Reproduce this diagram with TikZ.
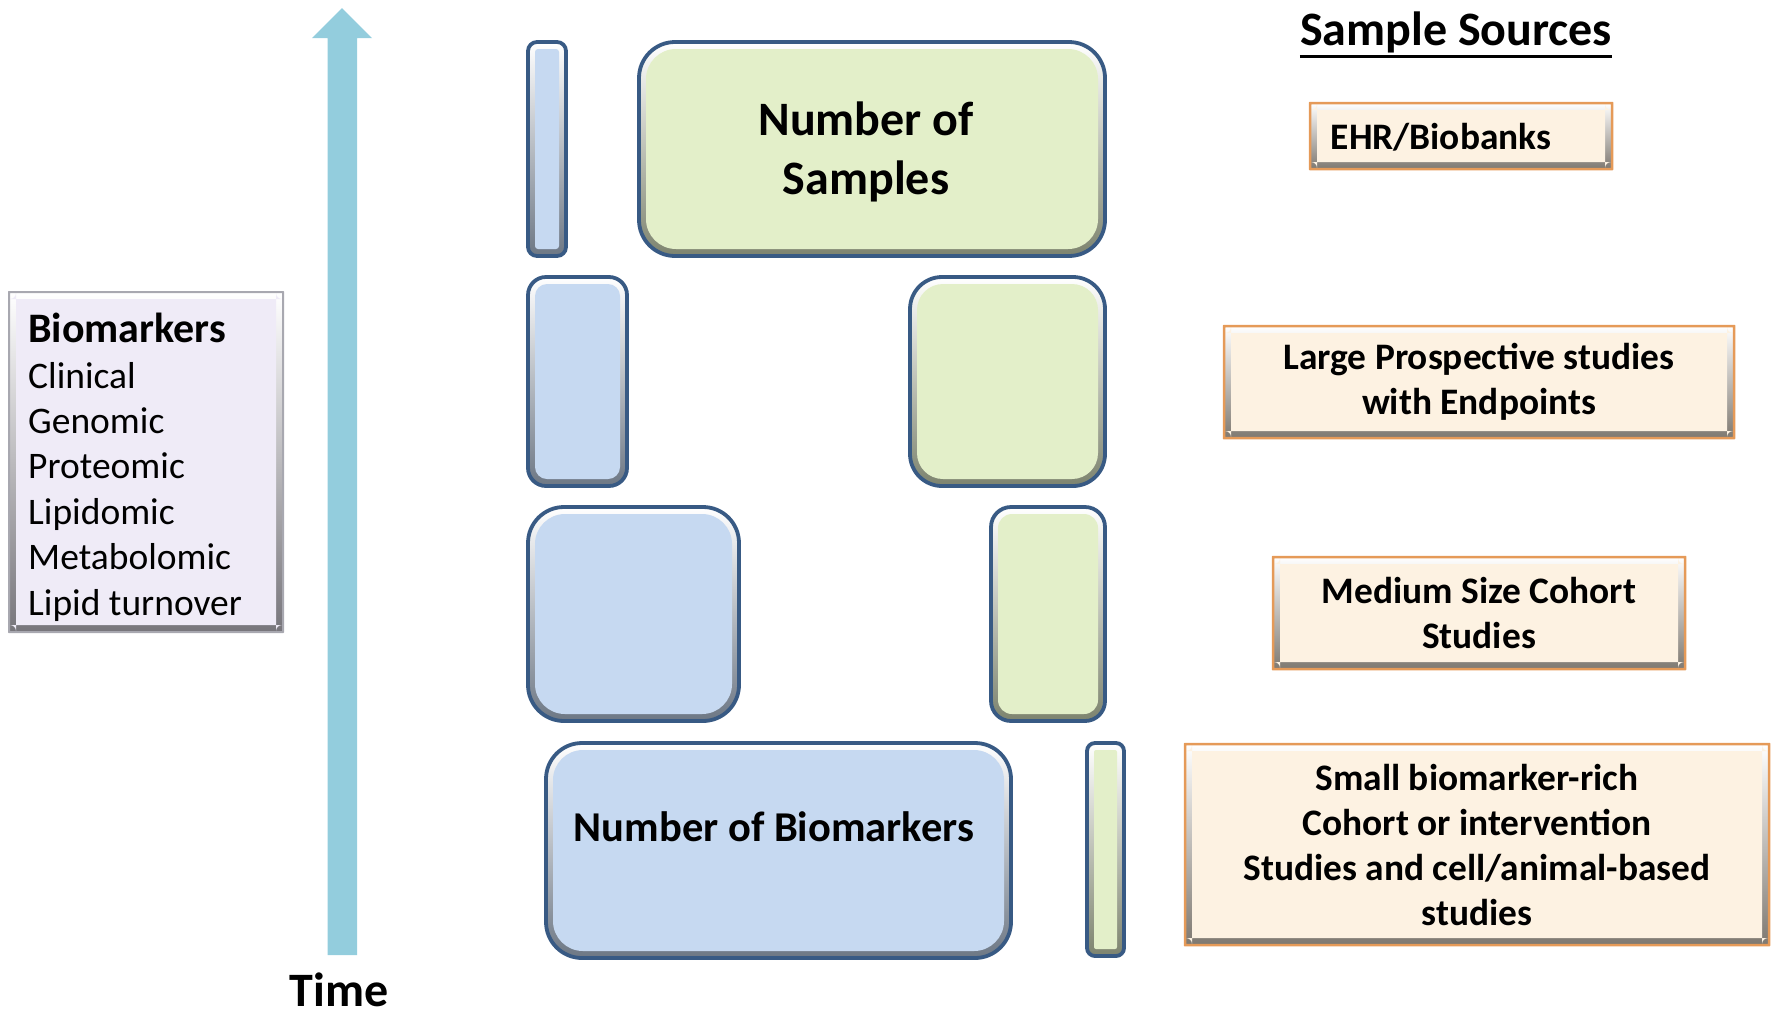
\documentclass[tikz,border=0pt]{standalone}
\usepackage{fontspec}
\setmainfont{Carlito}
\usetikzlibrary{calc}

\definecolor{barblue}{HTML}{C6D9F1}
\definecolor{bargreen}{HTML}{E3EFC9}
\definecolor{rimblue}{HTML}{385A84}
\definecolor{timeblue}{HTML}{93CDDD}
\definecolor{srcfill}{HTML}{FDF2E2}
\definecolor{srcrim}{HTML}{E59A58}
\definecolor{bmfill}{HTML}{EFEBF7}
\definecolor{bmrim}{HTML}{A8A8B0}

\tikzset{
  crad/.code={\def\boxrad{#1}\pgfkeysalso{rounded corners=#1}},
  % flat inner face inset from the rim, leaving a bevelled band
  face/.style={path picture={
      \fill[#1, rounded corners=\boxrad-6pt]
        ([shift={(7pt,7pt)}]path picture bounding box.south west) rectangle
        ([shift={(-7pt,-7pt)}]path picture bounding box.north east);}},
  barbox/.style={draw=rimblue, line width=3.8pt, inner sep=0pt,
      top color=white, middle color=#1, bottom color=#1!55!black,
      face=#1},
  bluebar/.style={barbox=barblue},
  greenbar/.style={barbox=bargreen},
  srcbox/.style={draw=srcrim, line width=2.5pt, crad=0.01pt, inner sep=0pt,
      top color=white, middle color=srcfill, bottom color=srcfill!50!black,
      face=srcfill, align=center, font=\fontsize{37.4}{45}\selectfont\bfseries},
  bmbox/.style={draw=bmrim, line width=2pt, crad=0.01pt, inner sep=0pt,
      top color=white, middle color=bmfill, bottom color=bmfill!50!black,
      face=bmfill},
  biglabel/.style={font=\fontsize{48}{59}\selectfont\bfseries, align=center, inner sep=0pt},
  listtext/.style={font=\fontsize{37.5}{45.4}\selectfont, align=left, inner sep=0pt},
}

\newcommand\barnode[7]{% name, style, radius, x1, y1, x2, y2
  \node[#2, crad=#3, minimum width={#6pt-#4pt}, minimum height={#7pt-#5pt}]
    (#1) at ({(#4+#6)/2}, {(#5+#7)/2}) {};}

\begin{document}
\begin{tikzpicture}[x=1pt, y=-1pt]
\useasboundingbox (0,0) rectangle (1771,1013);

% time axis arrow
\fill[timeblue] (327.5,955) -- (327.5,38) -- (312,38) -- (342,8) -- (372,38)
  -- (357,38) -- (357,955) -- cycle;
\node[biglabel] (time) at (339,990) {Time};

% biomarker list
\node[bmbox, minimum width=274pt, minimum height=340pt] (bm) at (146,462) {};
\node[listtext, anchor=north west] (bmlist) at (28,313)
  {{\fontsize{42}{45.4}\selectfont\bfseries Biomarkers}\\Clinical\\Genomic\\Proteomic\\Lipidomic\\Metabolomic\\Lipid turnover};

% biomarker bars (blue) and sample bars (green)
\barnode{b1}{bluebar}{9pt}{528}{42}{566}{256}
\barnode{g1}{greenbar}{36pt}{639}{42}{1105}{256}
\barnode{b2}{bluebar}{18pt}{528}{277}{627}{486}
\barnode{g2}{greenbar}{32pt}{910}{277}{1105}{486}
\barnode{b3}{bluebar}{36pt}{528}{507}{739}{721}
\barnode{g3}{greenbar}{20pt}{991}{507}{1105}{721}
\barnode{b4}{bluebar}{36pt}{546}{743}{1011}{958}
\barnode{g4}{greenbar}{8pt}{1087}{743}{1124}{956}

\node[biglabel] (nsamp) at (866,152) {Number of\\Samples};
\node[biglabel, font=\fontsize{42.5}{54}\selectfont\bfseries] (nbio) at (774,827) {Number of Biomarkers};

% sample sources
\node[biglabel, anchor=south] (srchead) at (1456,53) {Sample Sources};
\draw[line width=3pt] ([yshift=-3pt]srchead.south west) -- ([yshift=-3pt]srchead.south east);

\barnode{ehr}{srcbox}{0.01pt}{1310}{103}{1612}{169}
\node[srcbox, draw=none, shade=none, fill=none, path picture={}, anchor=center] (ehrtext) at (1441,137) {EHR/Biobanks};
\node[srcbox, minimum width=510pt, minimum height=112pt] (large) at (1479,382)
  {Large Prospective studies\\with Endpoints};
\node[srcbox, minimum width=412pt, minimum height=112pt] (medium) at (1479,613)
  {Medium Size Cohort\\Studies};
\node[srcbox, minimum width=584pt, minimum height=201pt] (small) at (1477,844.5)
  {Small biomarker-rich\\Cohort or intervention\\Studies and cell/animal-based\\studies};
\end{tikzpicture}
\end{document}
